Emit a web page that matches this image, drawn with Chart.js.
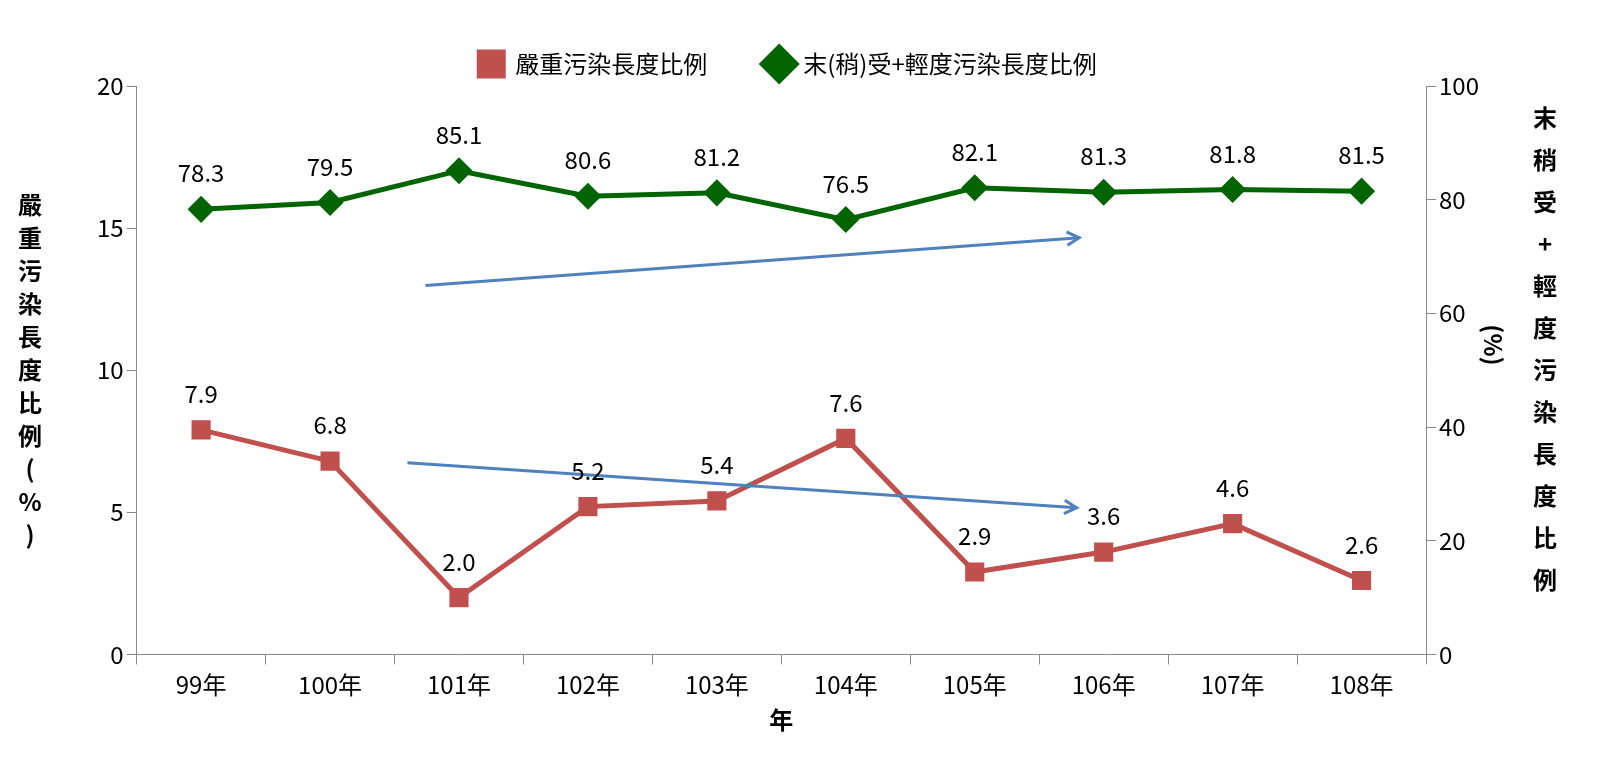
<!DOCTYPE html>
<html><head><meta charset="utf-8">
<script src="https://cdn.jsdelivr.net/npm/chart.js@4"></script>
<style>body{margin:0;background:#fff}#wrap{width:1600px;height:772px}</style>
</head><body><div id="wrap"><canvas id="myChart"></canvas></div>
<script>
const years = ['99年','100年','101年','102年','103年','104年','105年','106年','107年','108年'];
const severe = [7.9,6.8,2.0,5.2,5.4,7.6,2.9,3.6,4.6,2.6];
const light = [78.3,79.5,85.1,80.6,81.2,76.5,82.1,81.3,81.8,81.5];
// trend arrows: [x index, value] start/end
const arrowLight = [[1.74,64.9],[6.81,73.3]];
const arrowSevere = [[1.6,6.74],[6.79,5.16]];
const leftTitle = '嚴重污染長度比例(%)';
const rightTitle = '末稍受+輕度污染長度比例';

const FONT = '"Noto Sans CJK TC", "Noto Sans", sans-serif';
Chart.defaults.font.family = FONT;
Chart.defaults.color = '#000';

function arrow(ctx, x1, y1, x2, y2){
  ctx.save();
  ctx.strokeStyle = '#4f81bd'; ctx.lineWidth = 3;
  ctx.beginPath(); ctx.moveTo(x1,y1); ctx.lineTo(x2,y2); ctx.stroke();
  let a = Math.atan2(y2-y1, x2-x1);
  ctx.beginPath();
  ctx.moveTo(x2-14*Math.cos(a-0.5), y2-14*Math.sin(a-0.5));
  ctx.lineTo(x2,y2);
  ctx.lineTo(x2-14*Math.cos(a+0.5), y2-14*Math.sin(a+0.5));
  ctx.stroke();
  ctx.restore();
}

const extras = {
  id: 'extras',
  afterDatasetsDraw(chart){
    const ctx = chart.ctx, x = chart.scales.x, yl = chart.scales.y, yr = chart.scales.y1;
    const px = i => x.getPixelForValue(0) + i*(x.getPixelForValue(1)-x.getPixelForValue(0));
    arrow(ctx, px(arrowLight[0][0]), yr.getPixelForValue(arrowLight[0][1]), px(arrowLight[1][0]), yr.getPixelForValue(arrowLight[1][1]));
    arrow(ctx, px(arrowSevere[0][0]), yl.getPixelForValue(arrowSevere[0][1]), px(arrowSevere[1][0]), yl.getPixelForValue(arrowSevere[1][1]));
    // data labels
    ctx.save();
    ctx.font = '24px ' + FONT; ctx.textAlign = 'center'; ctx.textBaseline = 'bottom'; ctx.fillStyle = '#000';
    chart.data.datasets.forEach((ds, di) => {
      chart.getDatasetMeta(di).data.forEach((p, i) => {
        ctx.fillText(ds.data[i].toFixed(1), p.x, p.y - 24);
      });
    });
    // vertical axis titles
    ctx.font = 'bold 24px ' + FONT; ctx.textBaseline = 'middle';
    let chars = Array.from(leftTitle);
    chars.forEach((c, i) => ctx.fillText(c, 30, 205 + i*33));
    Array.from(rightTitle).forEach((c, i) => ctx.fillText(c, 1545, 118 + i*42));
    ctx.translate(1493, 345); ctx.rotate(Math.PI/2);
    ctx.fillText('(%)', 0, 0);
    ctx.restore();
  }
};

new Chart(document.getElementById('myChart'), {
  type: 'line',
  data: {
    labels: years,
    datasets: [{
      label: '嚴重污染長度比例', data: severe, yAxisID: 'y',
      borderColor: '#c0504d', backgroundColor: '#c0504d', borderWidth: 5,
      pointStyle: 'rect', pointRadius: 10, pointHoverRadius: 10
    },{
      label: '末(稍)受+輕度污染長度比例', data: light, yAxisID: 'y1',
      borderColor: '#006400', backgroundColor: '#006400', borderWidth: 5,
      pointStyle: 'rectRot', pointRadius: 10, pointHoverRadius: 10
    }]
  },
  options: {
    responsive: true, maintainAspectRatio: false, animation: false,
    layout: { padding: { left: 94, right: 118, top: -8, bottom: 38 } },
    plugins: {
      legend: { labels: { usePointStyle: true, font: { size: 24 }, padding: 60 } },
      tooltip: { enabled: false }
    },
    scales: {
      x: {
        offset: true,
        grid: { offset: true, drawOnChartArea: false, tickLength: 10, color: '#888' },
        border: { color: '#888' },
        ticks: { font: { size: 24 }, padding: 6 },
        title: { display: true, text: '年', font: { size: 24, weight: 'bold' }, padding: 0 }
      },
      y: {
        min: 0, max: 20,
        ticks: { stepSize: 5, font: { size: 24 } },
        grid: { drawOnChartArea: false, tickLength: 10, color: '#888' },
        border: { color: '#888' }
      },
      y1: {
        position: 'right', min: 0, max: 100,
        ticks: { stepSize: 20, font: { size: 24 } },
        grid: { drawOnChartArea: false, tickLength: 10, color: '#888' },
        border: { color: '#888' }
      }
    }
  },
  plugins: [extras]
});
</script></body></html>
